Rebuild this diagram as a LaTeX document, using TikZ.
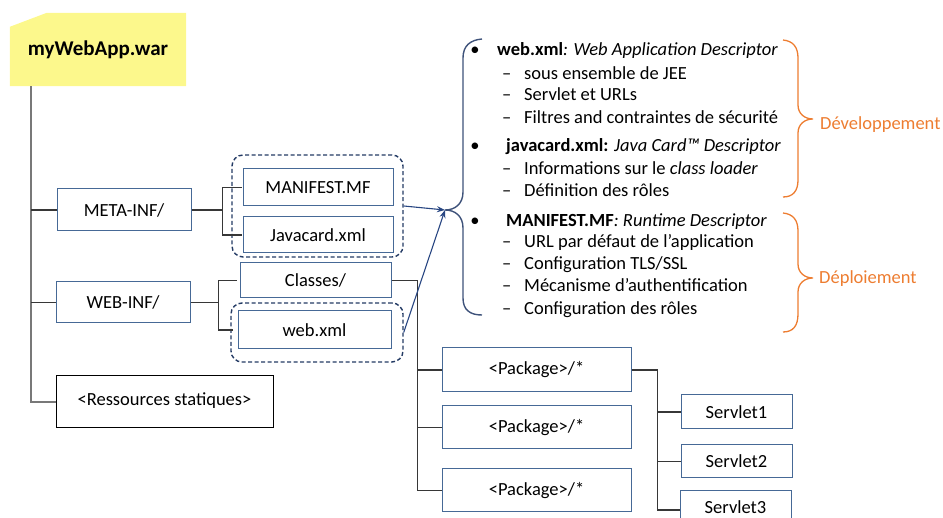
\documentclass[tikz,border=0pt]{standalone}
\usepackage{fontspec}
\setmainfont{Carlito}
\usetikzlibrary{arrows.meta,calc,backgrounds}
\definecolor{boxblue}{RGB}{70,105,150}
\definecolor{groupnavy}{RGB}{35,58,100}
\definecolor{bracegray}{RGB}{62,82,122}
\definecolor{arrowblue}{RGB}{40,70,130}
\definecolor{accent}{RGB}{237,125,49}
\definecolor{tagyellow}{RGB}{252,248,140}
\definecolor{linkgray}{RGB}{55,55,55}
\definecolor{trunkgray}{RGB}{120,120,120}
\begin{document}
\begin{tikzpicture}[x=1pt,y=-1pt,
  txt/.style={font=\fontsize{18.5}{21}\selectfont, inner sep=0pt},
  filebox/.style={txt, draw=boxblue, line width=1pt, fill=white},
  plainbox/.style={txt, draw=black, line width=1pt, fill=white},
  groupbox/.style={draw=groupnavy, dashed, dash pattern=on 4pt off 2.5pt, line width=1.4pt, rounded corners=11pt, inner sep=0pt},
  conn/.style={draw=linkgray, line width=1.3pt},
  trunkline/.style={draw=trunkgray, line width=2pt},
  linkarrow/.style={draw=arrowblue, line width=1.1pt, -{Stealth[length=8pt,width=6pt]}},
  bracel/.style={draw=bracegray, line width=1.4pt},
  bracer/.style={draw=accent, line width=1.3pt},
  item/.style={txt, anchor=base west},
  bulletmark/.style={txt, anchor=base},
]
\useasboundingbox (0,0) rectangle (943,518);
\clip (0,0) rectangle (943,518);

% archive tag
\node[inner sep=0pt, minimum width=176pt, minimum height=73pt,
      font=\fontsize{21}{24}\selectfont\bfseries] (app) at (98,49.5) {myWebApp.war};
\begin{scope}[on background layer]
  \fill[tagyellow] (app.south west) -- ($(app.north west)+(0,14)$)
     -- ($(app.north west)+(37,0)$) -- (app.north east) -- (app.south east) -- cycle;
\end{scope}

% first level
\node[filebox, minimum width=134pt, minimum height=42pt] (meta) at (124,210) {META-INF/};
\node[filebox, minimum width=134pt, minimum height=41pt] (webinf) at (123,302.5) {WEB-INF/};
\node[plainbox, minimum width=217pt, minimum height=52pt] (res) at (164.5,402) {\raisebox{5pt}{<Ressources statiques>}};

% descriptor groups
\node[groupbox, minimum width=171pt, minimum height=102pt] (g1) at (317.5,206) {};
\node[groupbox, minimum width=172pt, minimum height=59pt] (g2) at (317,332.5) {};

\node[filebox, minimum width=150pt, minimum height=37pt] (manifest) at (318,187.5) {MANIFEST.MF};
\node[filebox, minimum width=150pt, minimum height=36pt] (javacard) at (318,235) {Javacard.xml};
\node[filebox, minimum width=151pt, minimum height=35pt] (classes) at (315.5,280.5) {Classes/};
\node[filebox, minimum width=153pt, minimum height=38pt] (webxml) at (314.5,330) {web.xml};

% packages and servlets
\node[filebox, minimum width=189pt, minimum height=44pt] (pkg1) at (536.5,370) {\raisebox{3pt}{<Package>/*}};
\node[filebox, minimum width=189pt, minimum height=43pt] (pkg2) at (536.5,427.5) {\raisebox{3pt}{<Package>/*}};
\node[filebox, minimum width=189pt, minimum height=43pt] (pkg3) at (536.5,490.5) {\raisebox{3pt}{<Package>/*}};
\node[filebox, minimum width=111pt, minimum height=34pt] (sv1) at (736.5,412) {Servlet1};
\node[filebox, minimum width=111pt, minimum height=33pt] (sv2) at (736.5,461.5) {Servlet2};
\node[filebox, minimum width=111pt, minimum height=38pt] (sv3) at (735.5,510) {\raisebox{5pt}{Servlet3}};

% tree lines
\coordinate (trunk) at ($(app.south west)+(21,0)$);
\draw[trunkline] (trunk) |- (res.west);
\draw[conn] (meta.west) -- (meta.west -| trunk);
\draw[conn] (webinf.west) -- (webinf.west -| trunk);

\draw[conn] (meta.east) -- ++(31,0) coordinate (mf);
\draw[conn] ($(manifest.west)+(-1,0)$) -| (mf) |- ($(javacard.west)+(-1,0)$);

\draw[conn] (webinf.east) -- ++(28,0) coordinate (wf);
\draw[conn] ($(classes.west)+(-3,0)$) -| (wf) |- ($(webxml.west)+(-5,0)$);

\draw[conn] (classes.east) -- ++(26,0) coordinate (cf);
\draw[conn] (cf) |- (pkg3.west);
\draw[conn] (pkg1.west) -- (pkg1.west -| cf);
\draw[conn] (pkg2.west) -- (pkg2.west -| cf);

\draw[conn] (pkg1.east) -- ++(26,0) coordinate (pf);
\draw[conn] (pf) |- (sv3.west);
\draw[conn] (sv1.west) -- (sv1.west -| pf);
\draw[conn] (sv2.west) -- (sv2.west -| pf);

% descriptor brace and links
\coordinate (btip) at (445,210);
\draw[bracel] (482,39) .. controls (470,40) and (463,46) .. (463,58) -- (463,192)
  .. controls (463,204) and (455,210) .. (btip)
  .. controls (455,210) and (463,216) .. (463,228) -- (463,298)
  .. controls (463,310) and (470,315) .. (482,315);
\draw[linkarrow] (g1.east) -- (btip);
\draw[linkarrow] (g2.east) -- (btip);

% descriptor list
\node[bulletmark] (b1) at (475,56) {•};
\node[item] (t1) at (497,56) {\textbf{web.xml}\textit{: Web Application Descriptor}};
\node[item] (d11) at (502,80) {–};
\node[item] (t11) at (524,80) {sous ensemble de JEE};
\node[item] (d12) at (502,101) {–};
\node[item] (t12) at (524,101) {Servlet et URLs};
\node[item] (d13) at (502,124) {–};
\node[item] (t13) at (524,124) {Filtres and contraintes de sécurité};

\node[bulletmark] (b2) at (475,152) {•};
\node[item] (t2) at (506,152) {\textbf{javacard.xml:} \textit{Java Card™ Descriptor}};
\node[item] (d21) at (502,175) {–};
\node[item] (t21) at (524,175) {Informations sur le \textit{class loader}};
\node[item] (d22) at (502,197) {–};
\node[item] (t22) at (524,197) {Définition des rôles};

\node[bulletmark] (b3) at (475,227) {•};
\node[item] (t3) at (506,227) {\textbf{MANIFEST.MF}\textit{: Runtime Descriptor}};
\node[item] (d31) at (502,248) {–};
\node[item] (t31) at (524,248) {URL par défaut de l’application};
\node[item] (d32) at (502,270) {–};
\node[item] (t32) at (524,270) {Configuration TLS/SSL};
\node[item] (d33) at (502,292) {–};
\node[item] (t33) at (524,292) {Mécanisme d’authentification};
\node[item] (d34) at (502,315) {–};
\node[item] (t34) at (524,315) {Configuration des rôles};

% phase braces
\coordinate (dtip) at (813,119);
\draw[bracer] (783,40) .. controls (793,41) and (798,47) .. (798,58) -- (798,105)
  .. controls (798,114) and (805,119) .. (dtip)
  .. controls (805,119) and (798,124) .. (798,133) -- (798,180)
  .. controls (798,191) and (793,197) .. (783,197);
\node[item, text=accent] (dev) at (820,130) {Développement};

\coordinate (ptip) at (813,278);
\draw[bracer] (783,213) .. controls (793,214) and (798,220) .. (798,231) -- (798,264)
  .. controls (798,273) and (805,278) .. (ptip)
  .. controls (805,278) and (798,283) .. (798,292) -- (798,314)
  .. controls (798,326) and (793,332) .. (783,332);
\node[item, text=accent] (dep) at (819,284) {Déploiement};
\end{tikzpicture}
\end{document}
